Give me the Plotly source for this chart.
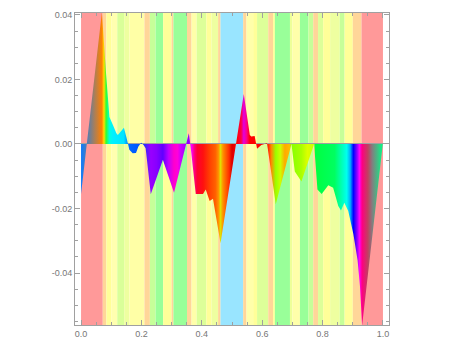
import plotly.graph_objects as go

# Sampled signal (x, value)
sig_x = [0.000, 0.069, 0.083, 0.094, 0.106, 0.117, 0.122, 0.131, 0.142, 0.150,
         0.155, 0.160, 0.171, 0.182, 0.190, 0.199, 0.207, 0.214, 0.231, 0.271,
         0.308, 0.357, 0.362, 0.380, 0.404, 0.413, 0.426, 0.437, 0.462, 0.539,
         0.559, 0.564, 0.575, 0.583, 0.597, 0.616, 0.645, 0.697, 0.708, 0.719,
         0.730, 0.772, 0.783, 0.797, 0.819, 0.835, 0.852, 0.861, 0.872, 0.885,
         0.902, 0.916, 0.924, 0.931, 1.000]
sig_y = [-0.0156, 0.0408, 0.0217, 0.0084, 0.0058, 0.0033, 0.0028, 0.0038, 0.0050, 0.0022,
         0.0002, -0.0018, -0.0029, -0.0028, -0.0008, 0.0004, -0.0003, -0.0013, -0.0156, -0.0049,
         -0.0151, 0.0033, 0.0000, -0.0155, -0.0155, -0.0141, -0.0177, -0.0170, -0.0308, 0.0155,
         0.0028, 0.0023, 0.0025, -0.0015, -0.0003, 0.0002, -0.0187, 0.0000, -0.0085, -0.0100,
         -0.0116, 0.0000, -0.0141, -0.0155, -0.0128, -0.0136, -0.0192, -0.0206, -0.0182, -0.0208,
         -0.0279, -0.0360, -0.0443, -0.0562, 0.0005]

# Fill colour along x
grad_pos = [0.000, 0.069, 0.076, 0.083, 0.094, 0.106, 0.142, 0.150, 0.160, 0.199,
            0.214, 0.231, 0.250, 0.271, 0.290, 0.308, 0.320, 0.330, 0.357, 0.366,
            0.375, 0.385, 0.404, 0.426, 0.445, 0.455, 0.462, 0.470, 0.490, 0.500,
            0.515, 0.530, 0.539, 0.549, 0.559, 0.616, 0.630, 0.645, 0.660, 0.675,
            0.690, 0.697, 0.730, 0.750, 0.770, 0.775, 0.840, 0.860, 0.880, 0.892,
            0.902, 0.915, 0.922, 0.931, 0.950, 0.965, 1.000]
grad_col = ["#0a7cff", "#ff8000", "#ffe000", "#30ff30", "#00ffe0", "#00f0ff", "#00e4ff", "#00a8ff", "#0066ff", "#0050ff",
            "#4020ff", "#9900ff", "#8800ff", "#6000ff", "#c000ff", "#ff00cc", "#ff00dd", "#cc00ff", "#8800ff", "#ff00ff",
            "#ff0080", "#ff0030", "#ff1010", "#ff4000", "#ff6000", "#ff9000", "#e0e000", "#ff9000", "#ff3000", "#dd0000",
            "#ff0000", "#ff0040", "#e000e0", "#ff0080", "#ff0000", "#ff0000", "#ff8800", "#99ff00", "#ccff00", "#ffaa00",
            "#ffbb00", "#88ff00", "#aaff00", "#ddff00", "#ccff00", "#00ff40", "#00ff60", "#00ffaa", "#00ffee", "#00aaff",
            "#0000ff", "#9900ff", "#ff00ff", "#ff0080", "#c04060", "#808080", "#00ff88"]

# Background bands
band_lo = [0.000, 0.072, 0.084, 0.100, 0.120, 0.143, 0.160, 0.210, 0.228, 0.247,
           0.272, 0.300, 0.306, 0.351, 0.366, 0.383, 0.415, 0.432, 0.454, 0.462,
           0.537, 0.548, 0.570, 0.583, 0.620, 0.636, 0.642, 0.692, 0.700, 0.725,
           0.753, 0.769, 0.785, 0.802, 0.825, 0.857, 0.873, 0.900, 0.929]
band_hi = band_lo[1:] + [1.000]
band_col = ["#ff9999", "#ffd699", "#ffff99", "#ffffb0", "#d9ff99", "#eeffa0", "#ffffa6", "#ffd699", "#c6ff99", "#99ff99",
            "#ffff99", "#ffd699", "#99ff99", "#ffd699", "#ffffaa", "#ddff99", "#ffff99", "#eeffa0", "#ffd699", "#99e5ff",
            "#ffd699", "#ffffaa", "#ffff99", "#ddff99", "#ffd699", "#ffff99", "#99ff99", "#eeff99", "#ffffaa", "#99ff99",
            "#c6ff99", "#ffd699", "#ddff99", "#ffff99", "#eeffa0", "#c6ff99", "#ffff99", "#ffd699", "#ff9999"]

x_ticks = [0.0, 0.2, 0.4, 0.6, 0.8, 1.0]
x_labels = ["0.0", "0.2", "0.4", "0.6", "0.8", "1.0"]
y_ticks = [-0.04, -0.02, 0.0, 0.02, 0.04]
y_labels = ["-0.04", "-0.02", "0.00", "0.02", "0.04"]

fig = go.Figure()
fig.add_trace(go.Scatter(
    x=sig_x, y=sig_y, mode="lines", fill="tozeroy",
    line=dict(width=0, color="rgba(0,0,0,0)"),
    fillgradient=dict(type="horizontal",
                      colorscale=[[p, c] for p, c in zip(grad_pos, grad_col)]),
    hoverinfo="skip", showlegend=False,
))

shapes = [dict(type="rect", xref="x", yref="paper", x0=a, x1=b, y0=0, y1=1,
               fillcolor=c, line=dict(width=0), layer="below")
          for a, b, c in zip(band_lo, band_hi, band_col)]

axis_common = dict(showline=True, linecolor="#a0a0a0", linewidth=1, mirror="ticks",
                   ticks="inside", ticklen=5, tickcolor="#a0a0a0", showgrid=False,
                   tickfont=dict(family="Liberation Sans, Arial", size=9, color="#777777"))

fig.update_layout(
    width=450, height=350,
    margin=dict(l=75, r=61, t=10, b=25),
    paper_bgcolor="white", plot_bgcolor="white",
    shapes=shapes,
    xaxis=dict(range=[-0.02, 1.02], tickmode="array", tickvals=x_ticks, ticktext=x_labels,
               zeroline=False,
               minor=dict(tickmode="linear", tick0=0, dtick=0.05, ticks="inside",
                          ticklen=3, tickcolor="#a0a0a0", showgrid=False),
               **axis_common),
    yaxis=dict(range=[-0.0561, 0.0406], tickmode="array", tickvals=y_ticks, ticktext=y_labels,
               zeroline=True, zerolinecolor="#a0a0a0", zerolinewidth=1,
               minor=dict(tickmode="linear", tick0=0, dtick=0.005, ticks="inside",
                          ticklen=3, tickcolor="#a0a0a0", showgrid=False),
               **axis_common),
)

fig.write_html("out.html")
